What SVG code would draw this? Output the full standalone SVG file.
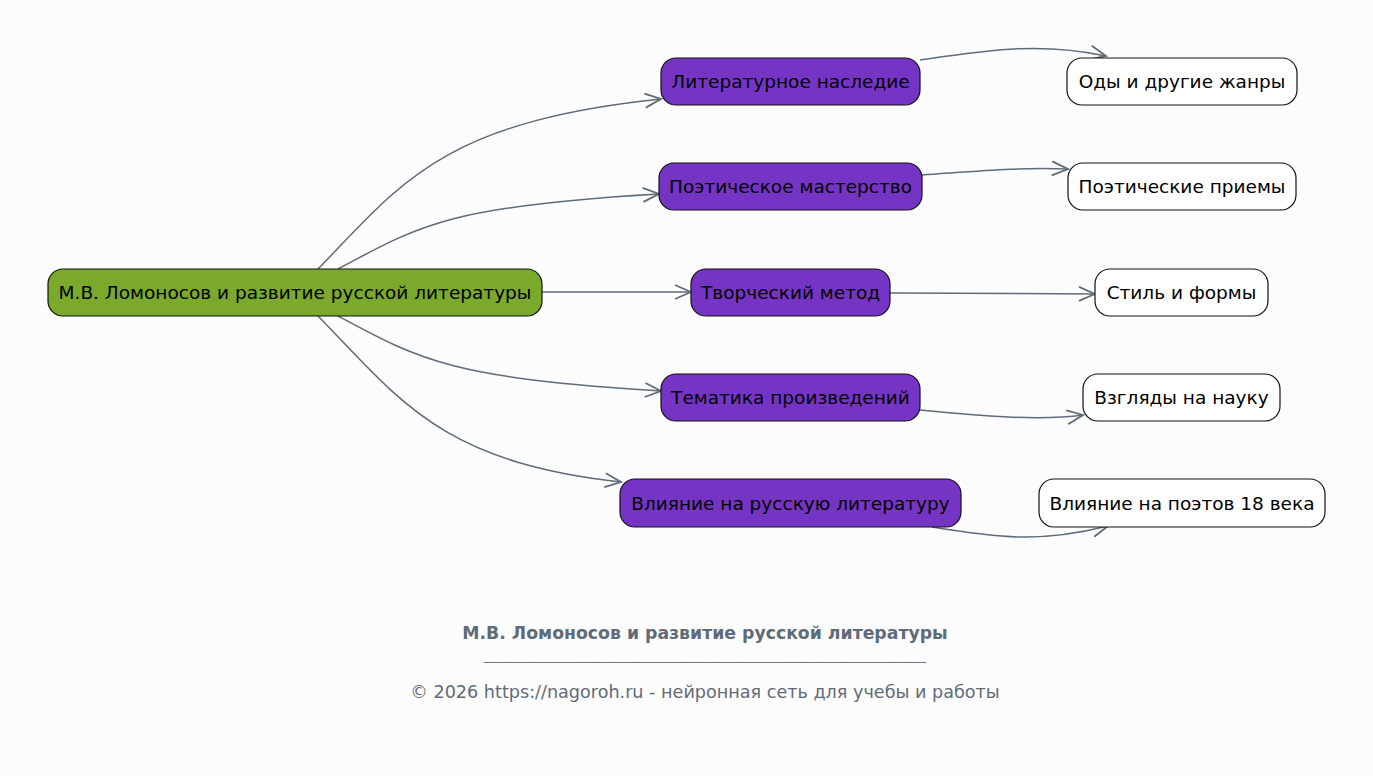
<svg xmlns="http://www.w3.org/2000/svg" width="1373" height="776" viewBox="0 0 1373 776">
<defs>
<style>
.n rect{stroke:#111;stroke-width:1.2}
.n text{font-family:"DejaVu Sans",sans-serif;font-size:18.5px;fill:#000;text-anchor:middle;dominant-baseline:central}
.root rect{fill:#7aa92b}
.mid rect{fill:#7634c4}
.leaf rect{fill:#fff}
.e path{fill:none;stroke:#5f6b78;stroke-width:1.5;marker-end:url(#a)}
.ft{font-family:"DejaVu Sans",sans-serif;fill:#5f6b78;text-anchor:middle}
</style>
<marker id="a" viewBox="0 0 20 16" refX="18" refY="8" markerWidth="20" markerHeight="16" markerUnits="userSpaceOnUse" orient="auto">
<path d="M2,1 L18,8 L2,15" fill="none" stroke="#5f6b78" stroke-width="1.8"/>
</marker>
</defs>
<rect width="1373" height="776" fill="#fcfcfc"/>
<g class="e" id="edges">
<path d="M318,269 C400,185 440,122 661,99"/>
<path d="M338,269 C420,225 450,206 659,194"/>
<path d="M542,292 L691,292"/>
<path d="M338,316 C420,360 450,378 661,391"/>
<path d="M318,316 C400,400 440,462 621,482"/>
<path d="M920,60 C990,50 1040,42 1106,56"/>
<path d="M922,175 C980,171 1020,167 1068,169"/>
<path d="M890,293 L1095,294"/>
<path d="M920,410 C980,416 1040,421 1083,415"/>
<path d="M932,527 C1000,538 1040,543 1108,526"/>
</g>
<g class="n root" id="n0"><rect x="48" y="269" width="494" height="47" rx="15"/><text x="295" y="292.5">М.В. Ломоносов и развитие русской литературы</text></g>
<g class="n mid" id="n1"><rect x="661" y="58" width="259" height="47" rx="15"/><text x="790.5" y="81.5">Литературное наследие</text></g>
<g class="n mid" id="n2"><rect x="659" y="163" width="263" height="47" rx="15"/><text x="790.5" y="186.5">Поэтическое мастерство</text></g>
<g class="n mid" id="n3"><rect x="691" y="269" width="199" height="47" rx="15"/><text x="790.5" y="292.5">Творческий метод</text></g>
<g class="n mid" id="n4"><rect x="661" y="374" width="259" height="47" rx="15"/><text x="790.5" y="397.5">Тематика произведений</text></g>
<g class="n mid" id="n5"><rect x="620" y="479" width="341" height="48" rx="15"/><text x="790.5" y="503">Влияние на русскую литературу</text></g>
<g class="n leaf" id="n6"><rect x="1067" y="58" width="230" height="47" rx="15"/><text x="1182" y="81.5">Оды и другие жанры</text></g>
<g class="n leaf" id="n7"><rect x="1068" y="163" width="228" height="47" rx="15"/><text x="1182" y="186.5">Поэтические приемы</text></g>
<g class="n leaf" id="n8"><rect x="1095" y="269" width="173" height="47" rx="15"/><text x="1181.5" y="292.5">Стиль и формы</text></g>
<g class="n leaf" id="n9"><rect x="1083" y="374" width="197" height="47" rx="15"/><text x="1181.5" y="397.5">Взгляды на науку</text></g>
<g class="n leaf" id="n10"><rect x="1039" y="479" width="286" height="48" rx="15"/><text x="1182" y="503">Влияние на поэтов 18 века</text></g>
<g id="footer">
<text class="ft" x="705" y="639" font-size="17.3" font-weight="bold">М.В. Ломоносов и развитие русской литературы</text>
<text class="ft" x="705" y="660" font-size="13">____________________________________________________________________</text>
<text class="ft" x="705" y="698" font-size="17.6">© 2026 https://nagoroh.ru - нейронная сеть для учебы и работы</text>
</g>
</svg>
